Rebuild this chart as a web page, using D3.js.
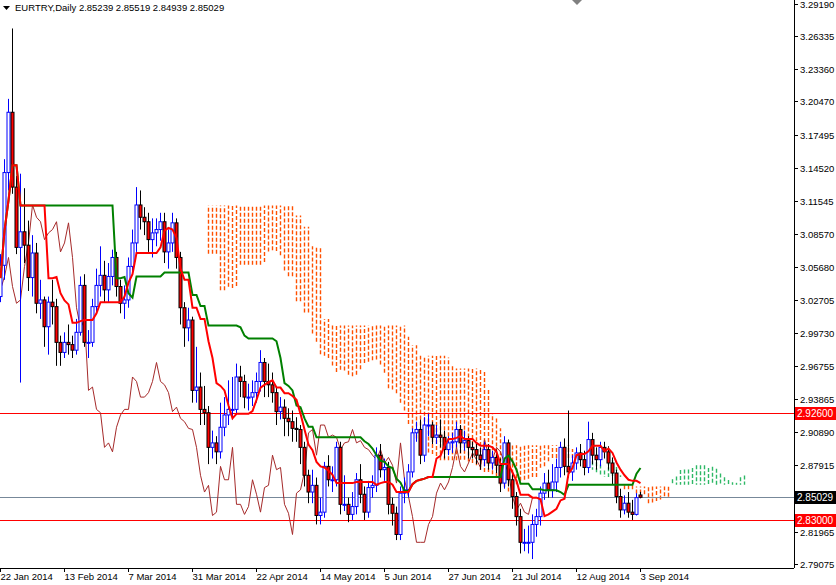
<!DOCTYPE html>
<html><head><meta charset="utf-8">
<script src="https://cdn.jsdelivr.net/npm/d3@7"></script>
<style>body{margin:0;background:#fff}svg{display:block}</style>
</head><body><svg id="c" width="836" height="585"></svg>
<script>
const firstOpen = 3.030;
const closes = [3.058,3.141,3.195,3.128,3.074,3.088,3.076,3.047,3.069,3.024,3.027,3.003,3.025,3.021,2.989,2.980,2.989,2.987,2.982,2.998,3.040,2.989,2.989,3.021,3.040,3.049,3.036,3.048,3.065,3.039,3.024,3.027,3.057,3.078,3.112,3.101,3.097,3.081,3.087,3.090,3.097,3.070,3.078,3.096,3.065,3.020,3.002,3.009,2.946,2.949,2.929,2.926,2.895,2.899,2.891,2.913,2.924,2.929,2.929,2.958,2.954,2.940,2.940,2.944,2.954,2.971,2.954,2.951,2.944,2.927,2.931,2.921,2.918,2.912,2.911,2.895,2.870,2.855,2.861,2.834,2.837,2.878,2.866,2.866,2.895,2.844,2.844,2.835,2.842,2.866,2.853,2.837,2.859,2.861,2.888,2.875,2.877,2.844,2.836,2.817,2.854,2.857,2.873,2.908,2.911,2.888,2.915,2.915,2.904,2.906,2.904,2.893,2.899,2.900,2.911,2.899,2.901,2.895,2.893,2.888,2.884,2.893,2.881,2.886,2.879,2.863,2.899,2.866,2.851,2.833,2.810,2.810,2.810,2.826,2.833,2.854,2.863,2.857,2.864,2.877,2.895,2.878,2.873,2.881,2.890,2.884,2.877,2.902,2.888,2.884,2.895,2.891,2.881,2.872,2.851,2.839,2.845,2.837,2.835,2.850,2.85029];
const highs = [3.068,3.153,3.207,3.270,3.138,3.140,3.127,3.098,3.085,3.078,3.045,3.030,3.030,3.045,3.028,2.995,2.998,3.005,2.995,3.010,3.048,3.050,3.000,3.028,3.055,3.075,3.062,3.060,3.072,3.070,3.045,3.040,3.065,3.090,3.128,3.125,3.110,3.105,3.100,3.100,3.105,3.105,3.090,3.105,3.100,3.070,3.025,3.020,3.012,2.985,2.962,2.950,2.932,2.910,2.905,2.935,2.940,2.955,2.958,2.970,2.968,2.960,2.952,2.955,2.962,2.982,2.975,2.970,2.962,2.950,2.940,2.938,2.930,2.928,2.922,2.915,2.900,2.875,2.875,2.868,2.850,2.882,2.888,2.878,2.900,2.900,2.870,2.850,2.855,2.872,2.880,2.860,2.865,2.870,2.895,2.898,2.885,2.882,2.850,2.842,2.860,2.868,2.880,2.912,2.918,2.920,2.922,2.925,2.918,2.915,2.920,2.910,2.905,2.908,2.918,2.915,2.910,2.905,2.900,2.898,2.895,2.900,2.898,2.892,2.893,2.885,2.905,2.902,2.872,2.855,2.840,2.822,2.825,2.835,2.840,2.860,2.872,2.875,2.880,2.885,2.900,2.903,2.928,2.888,2.895,2.898,2.892,2.918,2.908,2.895,2.900,2.900,2.896,2.886,2.875,2.858,2.852,2.855,2.848,2.854,2.85519];
const lows = [3.025,3.045,3.125,3.122,3.068,2.953,3.060,3.035,3.030,3.015,3.010,2.985,2.978,3.005,2.968,2.968,2.975,2.978,2.975,2.978,2.995,2.985,2.975,2.985,3.015,3.030,3.025,3.025,3.040,3.030,3.015,3.010,3.020,3.050,3.070,3.090,3.085,3.070,3.065,3.075,3.080,3.060,3.055,3.070,3.055,3.005,2.985,2.990,2.935,2.935,2.915,2.915,2.880,2.885,2.880,2.885,2.905,2.915,2.920,2.925,2.940,2.930,2.928,2.932,2.935,2.945,2.940,2.940,2.935,2.915,2.920,2.905,2.905,2.900,2.900,2.880,2.860,2.845,2.845,2.826,2.826,2.832,2.860,2.855,2.860,2.835,2.838,2.828,2.830,2.835,2.845,2.830,2.832,2.850,2.855,2.868,2.865,2.835,2.825,2.812,2.812,2.845,2.850,2.868,2.900,2.880,2.882,2.905,2.898,2.898,2.895,2.885,2.888,2.890,2.895,2.890,2.892,2.885,2.885,2.880,2.875,2.878,2.875,2.875,2.872,2.855,2.858,2.860,2.840,2.825,2.800,2.802,2.800,2.795,2.815,2.825,2.848,2.850,2.850,2.855,2.868,2.870,2.868,2.865,2.875,2.878,2.870,2.872,2.880,2.875,2.878,2.885,2.875,2.862,2.845,2.832,2.835,2.832,2.830,2.834,2.84939];
const opens = [firstOpen].concat(closes.slice(0,-1)); opens[160]=2.85239;
const yTicks = [3.29190,3.26335,3.23360,3.20470,3.17495,3.14520,3.11545,3.08570,3.05680,3.02705,2.99730,2.96755,2.93865,2.90890,2.87915,2.81965,2.79075];
const dateLabels = ["22 Jan 2014","13 Feb 2014","7 Mar 2014","31 Mar 2014","22 Apr 2014","14 May 2014","5 Jun 2014","27 Jun 2014","21 Jul 2014","12 Aug 2014","3 Sep 2014"];
const levels = [2.926, 2.830];
const lastPrice = 2.85029;

const svg = d3.select("#c");
const W = 794, H = 568;
const x = d3.scaleLinear().domain([0,1]).range([0,4]);
const y = d3.scaleLinear().domain([2.787,3.2955]).range([H,0]);
const n = closes.length;
const font = "'Liberation Sans', Arial, sans-serif";

function mid(a,b){let hi=-1e9,lo=1e9;for(let k=Math.max(0,a);k<=b;k++){hi=Math.max(hi,highs[k]);lo=Math.min(lo,lows[k]);}return (hi+lo)/2;}
const tenkan = d3.range(n).map(i=>mid(i-8,i));
const kijun = d3.range(n).map(i=>mid(i-25,i));
const spanA = d3.range(n).map(i=>(tenkan[i]+kijun[i])/2);
const spanB = d3.range(n).map(i=>mid(i-51,i));

const g = svg.append("g");
g.append("defs").append("clipPath").attr("id","cp").append("rect").attr("width",W).attr("height",H);
const plot = g.append("g").attr("clip-path","url(#cp)");

plot.selectAll("line.cl").data(d3.range(26,n)).join("line")
 .attr("x1",i=>x(i+26)+0.5).attr("x2",i=>x(i+26)+0.5)
 .attr("y1",i=>y(spanA[i])).attr("y2",i=>y(spanB[i]))
 .attr("stroke",i=>spanA[i]>=spanB[i]?"#2eb866":"#ff5000")
 .attr("stroke-width",1.4).attr("stroke-dasharray","4,2");

levels.forEach(v=>plot.append("line").attr("x1",0).attr("x2",W).attr("y1",Math.round(y(v))+0.5).attr("y2",Math.round(y(v))+0.5).attr("stroke","#ff0000"));
plot.append("line").attr("x1",0).attr("x2",W).attr("y1",Math.round(y(lastPrice))+0.5).attr("y2",Math.round(y(lastPrice))+0.5).attr("stroke","#778899");

plot.append("path").datum(d3.range(n)).attr("fill","none").attr("stroke","#a52a2a").attr("stroke-width",1)
 .attr("d",d3.line().x(i=>x(i-26)+0.5).y(i=>y(closes[i])));

const cg = plot.selectAll("g.cd").data(d3.range(n)).join("g");
cg.append("line").attr("x1",i=>x(i)+0.5).attr("x2",i=>x(i)+0.5).attr("y1",i=>y(highs[i])).attr("y2",i=>y(lows[i]))
 .attr("stroke",i=>closes[i]>=opens[i]?"#0000ff":"#000");
cg.append("rect").attr("x",i=>x(i)-1).attr("width",3)
 .attr("y",i=>y(Math.max(opens[i],closes[i]))).attr("height",i=>Math.max(1,Math.abs(y(opens[i])-y(closes[i]))))
 .attr("fill",i=>closes[i]>=opens[i]?"#fff":"#ff0000").attr("stroke",i=>closes[i]>=opens[i]?"#0000ff":"#000").attr("stroke-width",1);

plot.append("path").datum(d3.range(n)).attr("fill","none").attr("stroke","#008000").attr("stroke-width",2)
 .attr("d",d3.line().x(i=>x(i)+0.5).y(i=>y(kijun[i])));
plot.append("path").datum(d3.range(n)).attr("fill","none").attr("stroke","#ff0000").attr("stroke-width",2)
 .attr("d",d3.line().x(i=>x(i)+0.5).y(i=>y(tenkan[i])));

g.append("line").attr("x1",W+0.5).attr("x2",W+0.5).attr("y1",0).attr("y2",H).attr("stroke","#000");
g.append("line").attr("x1",0).attr("x2",W).attr("y1",H+0.5).attr("y2",H+0.5).attr("stroke","#000");

yTicks.forEach(v=>{const yy=Math.round(y(v))+0.5;
 g.append("line").attr("x1",W).attr("x2",W+4).attr("y1",yy).attr("y2",yy).attr("stroke","#000");
 g.append("text").attr("x",W+6).attr("y",yy+3.5).attr("font-family",font).attr("font-size",9.5).attr("fill","#000").text(v.toFixed(5));});
function tag(v,bg){const yy=Math.round(y(v));
 g.append("rect").attr("x",W+1).attr("y",yy-6).attr("width",41).attr("height",13).attr("fill",bg);
 g.append("text").attr("x",W+3).attr("y",yy+4).attr("font-family",font).attr("font-size",10).attr("fill","#fff").text(v.toFixed(5));}
levels.forEach(v=>tag(v,"#ff0000"));
tag(lastPrice,"#000");

dateLabels.forEach((t,k)=>{const xx=x(k*16)+0.5;
 g.append("line").attr("x1",xx).attr("x2",xx).attr("y1",H).attr("y2",H+4).attr("stroke","#000");
 g.append("text").attr("x",xx).attr("y",H+12).attr("font-family",font).attr("font-size",9.5).attr("fill","#000").text(t);});

g.append("path").attr("d","M3,6 L10,6 L6.5,10 Z").attr("fill","#000");
g.append("text").attr("x",15).attr("y",11).attr("font-family",font).attr("font-size",9.5).attr("fill","#000").text("EURTRY,Daily  2.85239 2.85519 2.84939 2.85029");
g.append("path").attr("d","M572,0 L582,0 L577,5 Z").attr("fill","#808080");
</script></body></html>
